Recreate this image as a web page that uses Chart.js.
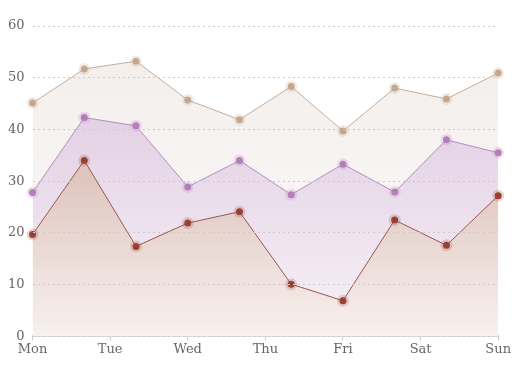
<!DOCTYPE html>
<html>
<head>
<meta charset="utf-8">
<script src="https://cdn.jsdelivr.net/npm/chart.js@4/dist/chart.umd.min.js"></script>
<style>
  html, body { margin: 0; padding: 0; background: #fff; }
  #wrap { width: 512px; height: 368px; }
</style>
</head>
<body>
<div id="wrap"><canvas id="chart"></canvas></div>
<script>
// 10 samples spread over the week, 7 day labels on the axis
const samples = ['1', '2', '3', '4', '5', '6', '7', '8', '9', '10'];
const days = ['Mon', 'Tue', 'Wed', 'Thu', 'Fri', 'Sat', 'Sun'];
const yTicks = [0, 10, 20, 30, 40, 50, 60];

const seriesTan = [45.1, 51.7, 53.2, 45.7, 41.9, 48.3, 39.7, 48.0, 45.9, 50.9];
const seriesPurple = [27.8, 42.3, 40.7, 28.9, 34.0, 27.4, 33.3, 27.9, 38.0, 35.5];
const seriesRed = [19.7, 34.0, 17.4, 21.9, 24.1, 10.1, 6.9, 22.5, 17.6, 27.2];

// vertical gradient over the chart area
const gradient = (top, bottom) => (ctx) => {
  const area = ctx.chart.chartArea;
  if (!area) return top;
  const g = ctx.chart.ctx.createLinearGradient(0, area.top, 0, area.bottom);
  g.addColorStop(0, top);
  g.addColorStop(1, bottom);
  return g;
};

const makeSet = (label, data, order, line, point, halo, fillTop, fillBottom) => ({
  label,
  data,
  order,
  xAxisID: 'x',
  borderColor: line,
  borderWidth: 1,
  tension: 0,
  fill: 'origin',
  backgroundColor: gradient(fillTop, fillBottom),
  pointRadius: 3.5,
  pointBorderWidth: 5,
  pointBackgroundColor: point,
  pointBorderColor: halo,
});

// higher order is drawn first (underneath)
const datasets = [
  makeSet('A', seriesTan, 3, '#c9ab95', '#c2a48c', 'rgba(205,180,160,0.25)', '#f1edea', '#fdfcfc'),
  makeSet('B', seriesPurple, 2, '#b88cbf', '#b27bb9', 'rgba(190,140,195,0.25)', '#d9c3dc', '#f8f2f8'),
  makeSet('C', seriesRed, 1, '#9b5656', '#933a2c', 'rgba(170,90,80,0.25)', '#c79e91', '#f8f1ef'),
];

const fontSpec = { family: '"DejaVu Serif", serif', size: 13 };

new Chart(document.getElementById('chart'), {
  type: 'line',
  data: { labels: samples, datasets },
  options: {
    responsive: true,
    maintainAspectRatio: false,
    animation: false,
    layout: { padding: { top: 26, right: 9, left: 0, bottom: 10 } },
    plugins: { legend: { display: false }, tooltip: { enabled: false } },
    scales: {
      x: {
        type: 'category',
        display: false,
        offset: false,
      },
      x2: {
        type: 'category',
        labels: days,
        position: 'bottom',
        offset: false,
        border: { display: true, color: '#cccccc', width: 2 },
        grid: { drawOnChartArea: false, color: '#cccccc', tickLength: 4 },
        ticks: { color: '#666', font: fontSpec, padding: 1, autoSkip: false, maxRotation: 0 },
      },
      y: {
        min: 0,
        max: 60,
        afterBuildTicks: (axis) => { axis.ticks = yTicks.map(v => ({ value: v })); },
        border: { display: false, dash: [2, 3] },
        grid: { color: '#cccccc', drawTicks: false, z: 1 },
        ticks: { color: '#666', font: fontSpec, padding: 8 },
      },
    },
  },
});
</script>
</body>
</html>
